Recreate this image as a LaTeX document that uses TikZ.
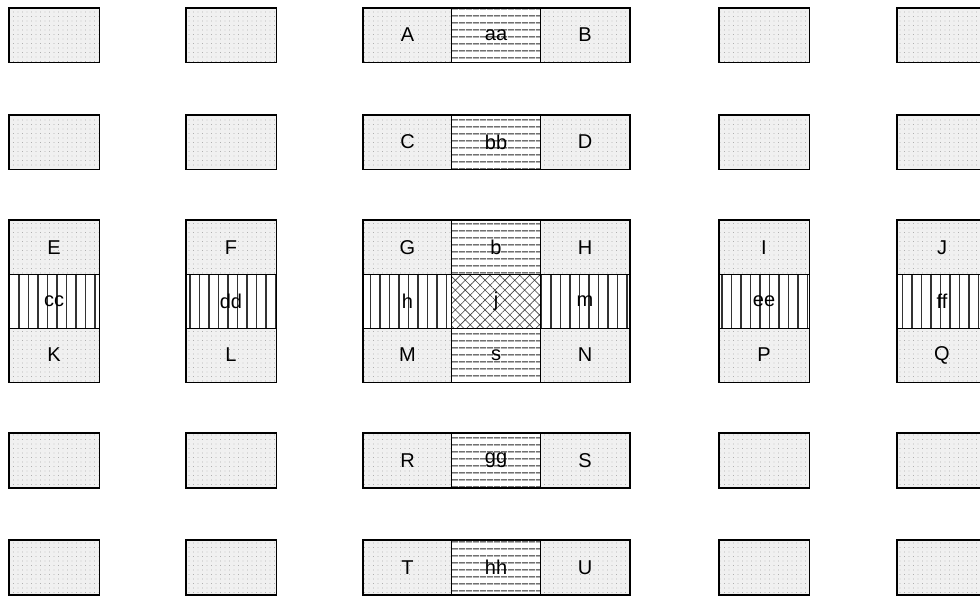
\documentclass[tikz,border=0pt]{standalone}
\usepackage{fontspec}
\setmainfont{Liberation Sans}
\usetikzlibrary{patterns.meta}
\begin{document}
\begin{tikzpicture}[x=1pt,y=1pt,
  cell/.style={rectangle,draw=black,line width=0.9pt,inner sep=0pt,
    minimum width=89pt,minimum height=54pt,
    font=\fontsize{20}{20}\selectfont},
  stip/.style={cell,preaction={fill=black!6},
    pattern={Dots[distance=4.5pt,radius=0.45pt]},pattern color=black!45},
  hlines/.style={cell,preaction={fill=white},
    pattern={Lines[angle=0,distance=6.5pt,line width=1pt]},pattern color=black!85},
  vlines/.style={cell,preaction={fill=white},
    pattern={Lines[angle=90,distance=9.5pt,line width=1.2pt]},pattern color=black!80},
  xhatch/.style={cell,preaction={fill=white},
    pattern={Hatch[angle=45,distance=7pt,line width=0.6pt]},pattern color=black!75},
  blockframe/.style={draw=black,line width=1.9pt}
]
\useasboundingbox (0,0) rectangle (980,-597);

% ---------- empty outer boxes ----------
\foreach \cx/\cn in {54/a,231/b,764/d,942/e}{
  \foreach \cy/\rn in {35/1,142/2,460.5/4,567.5/5}{
    \node[stip,minimum width=90pt] (box\cn\rn) at (\cx,-\cy) {};
    \draw[blockframe] (box\cn\rn.north west) rectangle (box\cn\rn.south east);
  }
}

% ---------- centre rows 1,2,4,5 ----------
\node[stip]   (A)  at (407.5,-35) {A};
\node[hlines] (aa) at (496,-35)   {aa};
\node[stip]   (B)  at (585,-35)   {B};
\draw[blockframe] (A.north west) rectangle (B.south east);

\node[stip]   (C)  at (407.5,-142) {C};
\node[hlines] (bb) at (496,-142)   {bb};
\node[stip]   (D)  at (585,-142)   {D};
\draw[blockframe] (C.north west) rectangle (D.south east);

\node[stip]   (R)  at (407.5,-460.5) {R};
\node[hlines] (gg) at (496,-460.5)   {gg};
\node[stip]   (S)  at (585,-460.5)   {S};
\draw[blockframe] (R.north west) rectangle (S.south east);

\node[stip]   (T)  at (407.5,-567.5) {T};
\node[hlines] (hh) at (496,-567.5)   {hh};
\node[stip]   (U)  at (585,-567.5)   {U};
\draw[blockframe] (T.north west) rectangle (U.south east);

% ---------- centre 3x3 block ----------
\node[stip]   (G) at (407.5,-247.5) {G};
\node[hlines] (b) at (496,-247.5)   {b};
\node[stip]   (H) at (585,-247.5)   {H};
\node[vlines] (h) at (407.5,-301)   {h};
\node[xhatch] (j) at (496,-301)     {j};
\node[vlines] (m) at (585,-301)     {m};
\node[stip]   (M) at (407.5,-355)   {M};
\node[hlines] (s) at (496,-355)     {s};
\node[stip]   (N) at (585,-355)     {N};
\draw[blockframe] (G.north west) rectangle (N.south east);

% ---------- vertical 3-cell blocks ----------
\node[stip,minimum width=90pt]   (E)  at (54,-247.5) {E};
\node[vlines,minimum width=90pt] (cc) at (54,-301)   {cc};
\node[stip,minimum width=90pt]   (K)  at (54,-355)   {K};
\draw[blockframe] (E.north west) rectangle (K.south east);

\node[stip,minimum width=90pt]   (F)  at (231,-247.5) {F};
\node[vlines,minimum width=90pt] (dd) at (231,-301)   {dd};
\node[stip,minimum width=90pt]   (L)  at (231,-355)   {L};
\draw[blockframe] (F.north west) rectangle (L.south east);

\node[stip,minimum width=90pt]   (I)  at (764,-247.5) {I};
\node[vlines,minimum width=90pt] (ee) at (764,-301)   {ee};
\node[stip,minimum width=90pt]   (P)  at (764,-355)   {P};
\draw[blockframe] (I.north west) rectangle (P.south east);

\node[stip,minimum width=90pt]   (J)  at (942,-247.5) {J};
\node[vlines,minimum width=90pt] (ff) at (942,-301)   {ff};
\node[stip,minimum width=90pt]   (Q)  at (942,-355)   {Q};
\draw[blockframe] (J.north west) rectangle (Q.south east);
\end{tikzpicture}
\end{document}
